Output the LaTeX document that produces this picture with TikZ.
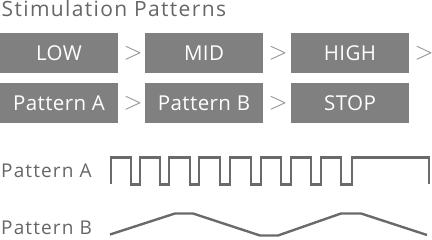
\documentclass[tikz,border=0pt]{standalone}
\usepackage{fontspec}
\setmainfont{Open Sans}
\newfontfamily\titlefont[LetterSpace=6.5]{Open Sans}
\newfontfamily\boxfont[LetterSpace=2]{Open Sans}
\newfontfamily\labelfont[LetterSpace=6]{Open Sans}
\definecolor{boxgray}{HTML}{808080}
\definecolor{txtgray}{HTML}{666666}
\definecolor{arrgray}{HTML}{8A8A8A}
\definecolor{wavegray}{HTML}{6A6A6A}
\tikzset{
  stagebox/.style={fill=boxgray, text=white, minimum width=118pt, minimum height=40pt, inner sep=0pt, font=\boxfont\fontsize{20.5}{20.5}\selectfont},
  sep/.style={text=arrgray, inner sep=0pt, font=\fontsize{24}{24}\selectfont},
  lbl/.style={text=txtgray, anchor=base west, inner sep=0pt, font=\labelfont\fontsize{19}{19}\selectfont},
  wave/.style={draw=wavegray, line width=2.4pt, line join=miter}
}
\begin{document}
\begin{tikzpicture}[x=1pt,y=-1pt]
\useasboundingbox (0,0) rectangle (432,240);
\node[text=txtgray, anchor=base west, inner sep=0pt, font=\titlefont\fontsize{21}{21}\selectfont] (title) at (1.5,17) {Stimulation Patterns};
% row 1
\node[stagebox] (low) at (59,53) {LOW};
\node[sep] (s1) at (133,53) {$>$};
\node[stagebox] (mid) at (204,53) {MID};
\node[sep] (s2) at (278,53) {$>$};
\node[stagebox] (high) at (350,53) {HIGH};
\node[sep] (s3) at (424,53) {$>$};
% row 2
\node[stagebox] (pa) at (59,103.5) {Pattern A};
\node[sep] (s4) at (133,103.5) {$>$};
\node[stagebox] (pb) at (204,103.5) {Pattern B};
\node[sep] (s5) at (278,103.5) {$>$};
\node[stagebox] (stop) at (350,103.5) {STOP};
% labels
\node[lbl] (la) at (1,178) {Pattern A};
\node[lbl] (lb) at (1,235) {Pattern B};
% waveform A
\draw[wave] (111,184.5) -- (111,157.5)
  -- (131,157.5) -- (131,184.5) -- (140,184.5) -- (140,157.5)
  -- (160,157.5) -- (160,184.5) -- (169,184.5) -- (169,157.5)
  -- (190,157.5) -- (190,184.5) -- (199,184.5) -- (199,157.5)
  -- (220,157.5) -- (220,184.5) -- (230,184.5) -- (230,157.5)
  -- (251,157.5) -- (251,184.5) -- (261,184.5) -- (261,157.5)
  -- (281,157.5) -- (281,184.5) -- (291,184.5) -- (291,157.5)
  -- (311,157.5) -- (311,184.5) -- (321,184.5) -- (321,157.5)
  -- (341,157.5) -- (341,184.5) -- (352,184.5) -- (352,157.5)
  -- (429,157.5) -- (429,184.5);
% waveform B
\draw[wave] (110,234.5) -- (175,213.5) -- (193,213.5) -- (260,235.5)
  -- (278,235.5) -- (341,213.5) -- (361,213.5) -- (427,235);
\end{tikzpicture}
\end{document}
